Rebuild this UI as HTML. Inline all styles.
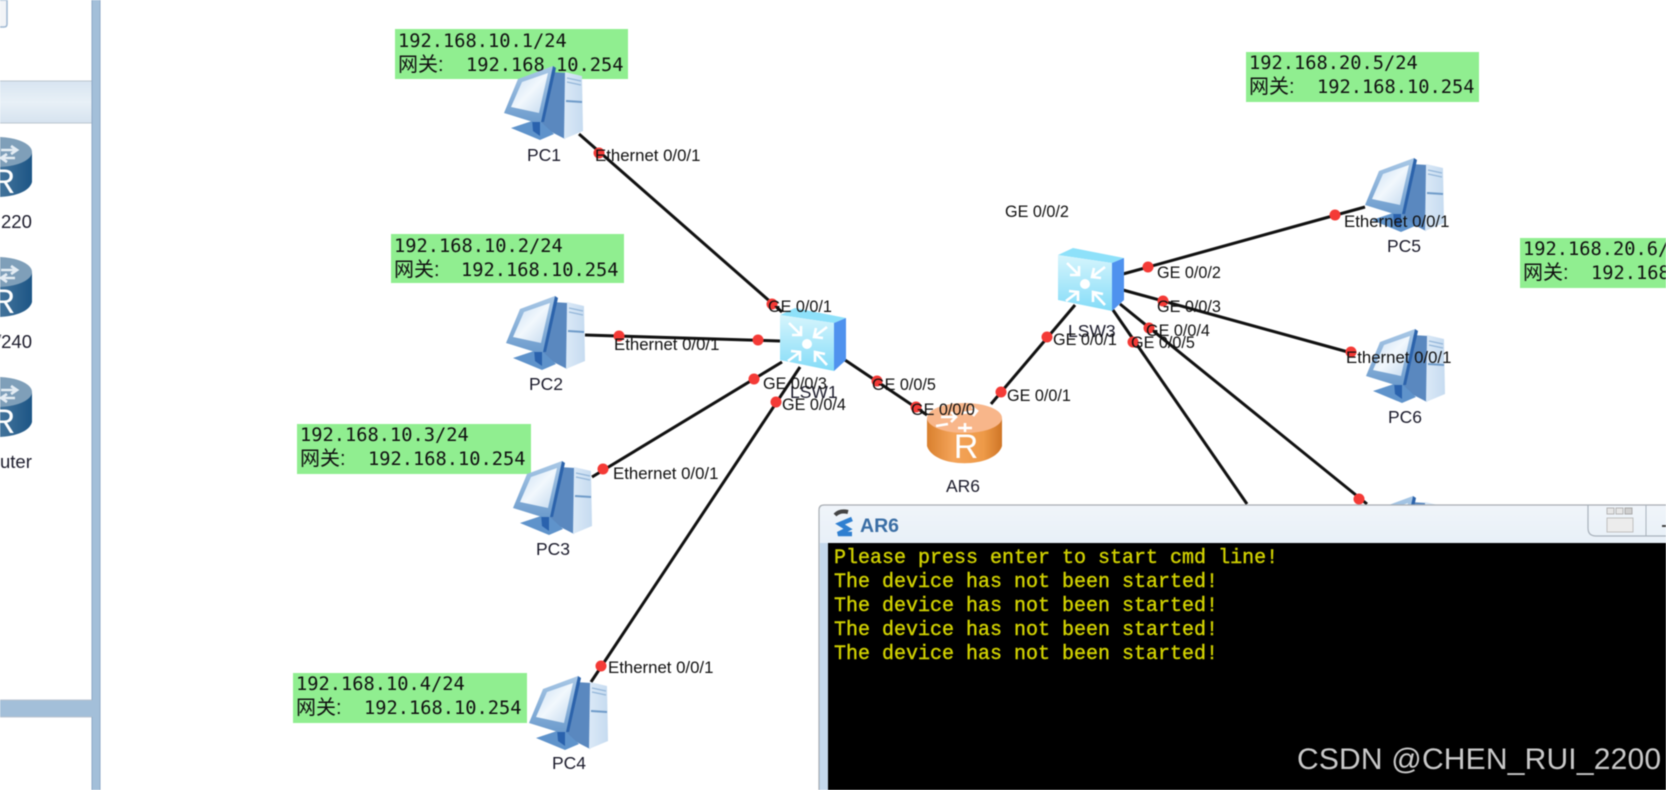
<!DOCTYPE html>
<html><head><meta charset="utf-8"><style>
html,body{margin:0;padding:0;background:#fff;width:1666px;height:790px;overflow:hidden}
svg{display:block;filter:blur(.45px)}
.l{font:16.2px "Liberation Sans",sans-serif;fill:#111}
.e{font:16.8px "Liberation Sans",sans-serif;fill:#111}
.n{font:17.5px "Liberation Sans",sans-serif;fill:#1c1c2c}
.m{font:18.7px "DejaVu Sans Mono","Liberation Mono",monospace;fill:#111}
.c{font:20px "Liberation Sans","Noto Sans CJK SC",sans-serif;fill:#111}
.t{font:20px "Liberation Mono",monospace;fill:#d0d000;stroke:#d0d000;stroke-width:.4px}
</style></head><body>
<svg width="1666" height="790" viewBox="0 0 1666 790" xmlns="http://www.w3.org/2000/svg">
<defs>
<linearGradient id="scr" x1="0" y1="0" x2="1" y2="1"><stop offset="0" stop-color="#c6dcf2"/><stop offset=".5" stop-color="#f2f8fd"/><stop offset="1" stop-color="#c2d8ee"/></linearGradient>
<linearGradient id="frm" x1="0" y1="0" x2="0" y2="1"><stop offset="0" stop-color="#a9c8e6"/><stop offset="1" stop-color="#6d9ccd"/></linearGradient>
<linearGradient id="twr" x1="0" y1="0" x2="1" y2="0"><stop offset="0" stop-color="#dbe9f7"/><stop offset="1" stop-color="#c6dbf0"/></linearGradient>
<linearGradient id="swf" x1="0" y1="0" x2="0" y2="1"><stop offset="0" stop-color="#d6f5fd"/><stop offset="1" stop-color="#84dcf8"/></linearGradient>
<linearGradient id="org" x1="0" y1="0" x2="1" y2="0"><stop offset="0" stop-color="#d9802e"/><stop offset=".35" stop-color="#f4a45a"/><stop offset=".75" stop-color="#ee9a48"/><stop offset="1" stop-color="#cf7526"/></linearGradient>
<linearGradient id="blu" x1="0" y1="0" x2="1" y2="0"><stop offset="0" stop-color="#5f8bb0"/><stop offset=".6" stop-color="#3f7099"/><stop offset="1" stop-color="#1c5585"/></linearGradient>
<linearGradient id="bar" x1="0" y1="0" x2="0" y2="1"><stop offset="0" stop-color="#f0f5fa"/><stop offset="1" stop-color="#b4cfe8"/></linearGradient>
<linearGradient id="band" x1="0" y1="0" x2="0" y2="1"><stop offset="0" stop-color="#d8e5f1"/><stop offset=".5" stop-color="#e8f0f7"/><stop offset="1" stop-color="#d6e3ef"/></linearGradient>
<g id="pc">
<path d="M46,7 L63,8 L61,74 L34,60 Z" fill="#5a88bf"/>
<path d="M61,7 L78,11 L79,66 L60,74 Z" fill="url(#twr)"/>
<path d="M63,13 L77,16 M63,17 L77,20" stroke="#94b6d9" stroke-width="1.4"/>
<path d="M62,36 L78,37" stroke="#6f9bc9" stroke-width="2"/>
<path d="M7,63 L28,56 L36,56 L50,69 L36,75 Z" fill="#5f93cb"/>
<path d="M28,54 L36,54 L36,71 L29,66 Z" fill="#2a62ad"/>
<path d="M0,48 L14,14 L49,1 L38,57 L29,57 Z" fill="url(#frm)"/>
<path d="M7,42 L18,17 L44,8 L35,48 Z" fill="url(#scr)"/>
<path d="M49,1 L52,3 L40,57 L37,57 Z" fill="#2c63ab"/>
</g>
<g id="sw">
<path d="M0,7 L15,0 L66,10 L54,15 Z" fill="#8ee1fa"/>
<path d="M0,7 L54,15 L54,63 L0,52 Z" fill="url(#swf)"/>
<path d="M54,15 L66,10 L66,52 L54,63 Z" fill="#4f92ee"/>
<circle cx="27" cy="36" r="5" fill="#fff"/>
<g fill="none" stroke="#fff" stroke-width="2.6">
<path d="M9,15 L21,27 M21,18 L21,27 L12,27"/>
<path d="M47,19 L34,29 M43,30 L34,29 L36,20"/>
<path d="M8,53 L20,44 M11,43 L20,44 L20,53"/>
<path d="M47,57 L35,44 M35,54 L35,44 L45,46"/>
</g>
</g>
<g id="rt">
<path d="M-35,15 V45 C-30,65 30,65 35,45 V15 Z" fill="url(#blu)"/>
<ellipse cx="0" cy="15" rx="35" ry="15" fill="#7f9fb9"/>
<text x="6" y="56" font-family="Liberation Sans" font-size="34" fill="#fff" text-anchor="middle">R</text>
<path d="M4,13 H20 M14,9 L20,13 L14,17 M18,21 H4 M10,17 L4,21 L10,25" stroke="#e4edf4" stroke-width="2.6" fill="none"/>
</g>
</defs>

<rect width="1666" height="790" fill="#fff"/>

<!-- left panel -->
<path d="M-3,0 H7 V24 Q7,27 4,27 H-3 Z" fill="#f2f4f7" stroke="#9fb8d2" stroke-width="1.5"/>
<rect x="0" y="81" width="92" height="42" fill="url(#band)"/>
<path d="M0,81 H92 M0,123 H92" stroke="#bcc6d0" stroke-width="1"/>
<use href="#rt" x="-3" y="137"/>
<use href="#rt" x="-3" y="257"/>
<use href="#rt" x="-3" y="377"/>
<text x="1" y="228" style="font:18.5px 'Liberation Sans',sans-serif;fill:#1c1c2c">220</text>
<text x="-4" y="348" style="font:18.5px 'Liberation Sans',sans-serif;fill:#1c1c2c">/240</text>
<text x="0" y="468" style="font:18.5px 'Liberation Sans',sans-serif;fill:#1c1c2c">uter</text>
<rect x="0" y="700" width="92" height="17" fill="#a3bfd9"/>
<path d="M0,700 H92 M0,717 H92" stroke="#bcc4d0" stroke-width="1"/>
<rect x="92" y="0" width="8" height="790" fill="#a3bfd9"/>
<path d="M92,0 V700 M92,717 V790 M100,0 V790" stroke="#8ea9c6" stroke-width="1"/>

<!-- green notes -->
<g fill="#90ee90">
<rect x="395" y="29" width="233" height="50"/>
<rect x="391" y="234" width="233" height="49"/>
<rect x="297" y="424" width="234" height="50"/>
<rect x="293" y="673" width="234" height="50"/>
<rect x="1246" y="52" width="233" height="50"/>
<rect x="1520" y="238" width="146" height="50"/>
</g>
<text class="m" x="398" y="47">192.168.10.1/24</text><text class="c" x="398" y="71">网关:</text><text class="m" x="466" y="71">192.168.10.254</text>
<text class="m" x="394" y="252">192.168.10.2/24</text><text class="c" x="394" y="276">网关:</text><text class="m" x="461" y="276">192.168.10.254</text>
<text class="m" x="300" y="441">192.168.10.3/24</text><text class="c" x="300" y="465">网关:</text><text class="m" x="368" y="465">192.168.10.254</text>
<text class="m" x="296" y="690">192.168.10.4/24</text><text class="c" x="296" y="714">网关:</text><text class="m" x="364" y="714">192.168.10.254</text>
<text class="m" x="1249" y="69">192.168.20.5/24</text><text class="c" x="1249" y="93">网关:</text><text class="m" x="1317" y="93">192.168.10.254</text>
<text class="m" x="1523" y="255">192.168.20.6/24</text><text class="c" x="1523" y="279">网关:</text><text class="m" x="1591" y="279">192.168.10.254</text>

<!-- links -->
<g stroke="#111" stroke-width="3" fill="none">
<path d="M579,134 L782,312"/>
<path d="M585,335 L780,341"/>
<path d="M592,477 L782,362"/>
<path d="M591,682 L800,367"/>
<path d="M845,360 L927,415"/>
<path d="M991,404 L1075,305"/>
<path d="M1123,274 L1365,207"/>
<path d="M1123,290 L1348,352"/>
<path d="M1120,304 L1367,504"/>
<path d="M1113,310 L1247,504"/>
</g>
<g fill="#f43a36">
<circle cx="599" cy="153" r="5.5"/><circle cx="772" cy="304" r="5.5"/>
<circle cx="619" cy="336" r="5.5"/><circle cx="758" cy="340" r="5.5"/>
<circle cx="603" cy="469" r="5.5"/><circle cx="754" cy="379" r="5.5"/>
<circle cx="601" cy="666" r="5.5"/><circle cx="776" cy="402" r="5.5"/>
<circle cx="877" cy="381" r="5.5"/><circle cx="916" cy="407" r="5.5"/>
<circle cx="1001" cy="392" r="5.5"/><circle cx="1047" cy="337" r="5.5"/>
<circle cx="1148" cy="267" r="5.5"/><circle cx="1335" cy="215" r="5.5"/>
<circle cx="1163" cy="301" r="5.5"/><circle cx="1351" cy="352" r="5.5"/>
<circle cx="1149" cy="328" r="5.5"/><circle cx="1359" cy="499" r="5.5"/>
<circle cx="1133" cy="342" r="5.5"/>
</g>

<!-- devices -->
<use href="#pc" x="504" y="65"/>
<use href="#pc" x="506" y="295"/>
<use href="#pc" x="513" y="460"/>
<use href="#pc" x="529" y="675"/>
<use href="#pc" x="1365" y="157"/>
<use href="#pc" x="1366" y="328"/>
<use href="#pc" x="1364" y="495"/>
<use href="#sw" x="780" y="308"/>
<use href="#sw" x="1058" y="248"/>

<g>
<path d="M927,418 V446 C934,469 995,469 1002,446 V418 Z" fill="url(#org)"/>
<ellipse cx="964.5" cy="418" rx="37.5" ry="15" fill="#f8b68a"/>
<path d="M941,417 H956 M951,412 L956,417 L951,422 M962,413 L977,411 M972,407 L977,411 L973,416 M948,424 L936,426 M958,428 H972 M965,423 V432" stroke="#fff" stroke-width="2.6" fill="none"/>
<text x="966" y="458" font-family="Liberation Sans" font-size="34" fill="#fff" text-anchor="middle">R</text>
</g>

<!-- labels -->
<text class="n" x="527" y="161">PC1</text>
<text class="n" x="529" y="390">PC2</text>
<text class="n" x="536" y="555">PC3</text>
<text class="n" x="552" y="769">PC4</text>
<text class="n" x="1387" y="252">PC5</text>
<text class="n" x="1388" y="423">PC6</text>
<text class="n" x="946" y="492">AR6</text>
<text class="n" x="790" y="398">LSW1</text>
<text class="n" x="1068" y="337">LSW3</text>

<text class="e" x="595" y="161">Ethernet 0/0/1</text>
<text class="e" x="614" y="350">Ethernet 0/0/1</text>
<text class="e" x="613" y="479">Ethernet 0/0/1</text>
<text class="e" x="608" y="673">Ethernet 0/0/1</text>
<text class="e" x="1344" y="227">Ethernet 0/0/1</text>
<text class="e" x="1346" y="363">Ethernet 0/0/1</text>
<text class="l" x="1005" y="217">GE 0/0/2</text>
<text class="l" x="768" y="312">GE 0/0/1</text>
<text class="l" x="763" y="389">GE 0/0/3</text>
<text class="l" x="782" y="410">GE 0/0/4</text>
<text class="l" x="872" y="390">GE 0/0/5</text>
<text class="l" x="911" y="415">GE 0/0/0</text>
<text class="l" x="1007" y="401">GE 0/0/1</text>
<text class="l" x="1053" y="345">GE 0/0/1</text>
<text class="l" x="1157" y="278">GE 0/0/2</text>
<text class="l" x="1157" y="312">GE 0/0/3</text>
<text class="l" x="1146" y="336">GE 0/0/4</text>
<text class="l" x="1131" y="348">GE 0/0/5</text>

<!-- console window -->
<path d="M819,790 V510 Q819,505 824,505 H1666 V790 Z" fill="url(#bar)"/>
<path d="M819,790 V510 Q819,505 824,505 H1666" fill="none" stroke="#a8adb3" stroke-width="1.2"/>
<rect x="820" y="543" width="8" height="247" fill="#c4d8ec"/>
<rect x="828" y="543" width="838" height="247" fill="#000"/>
<path d="M1588,505 V528 Q1588,536 1596,536 H1666" fill="none" stroke="#a9b2bc" stroke-width="1.2"/>
<path d="M1646,505 V536" stroke="#a9b2bc" stroke-width="1"/>
<rect x="1607" y="508" width="7" height="6" fill="#e6e6e6" stroke="#b5b5b5"/>
<rect x="1616" y="508" width="7" height="6" fill="#e6e6e6" stroke="#b5b5b5"/>
<rect x="1625" y="508" width="7" height="6" fill="#cfcfcf" stroke="#aaa"/>
<rect x="1607" y="518" width="26" height="14" fill="#ececec" stroke="#c0c0c0"/>
<rect x="1662" y="525" width="4" height="2" fill="#444"/>
<path d="M835,515 Q840,510 848,512" fill="none" stroke="#444" stroke-width="4"/>
<path d="M852,519 L840,524 L848,529 L838,534 L852,534" fill="none" stroke="#2f7fd0" stroke-width="4.5"/>
<text x="860" y="532" style="font:bold 19.5px 'Liberation Sans',sans-serif;fill:#3a6ea5">AR6</text>
<text class="t" x="834" y="563">Please press enter to start cmd line!</text>
<text class="t" x="834" y="587">The device has not been started!</text>
<text class="t" x="834" y="611">The device has not been started!</text>
<text class="t" x="834" y="635">The device has not been started!</text>
<text class="t" x="834" y="659">The device has not been started!</text>
<text x="1297" y="769" textLength="364" style="font:30px 'Liberation Sans',sans-serif;fill:#c9c9c9">CSDN @CHEN_RUI_2200</text>
</svg>
</body></html>
